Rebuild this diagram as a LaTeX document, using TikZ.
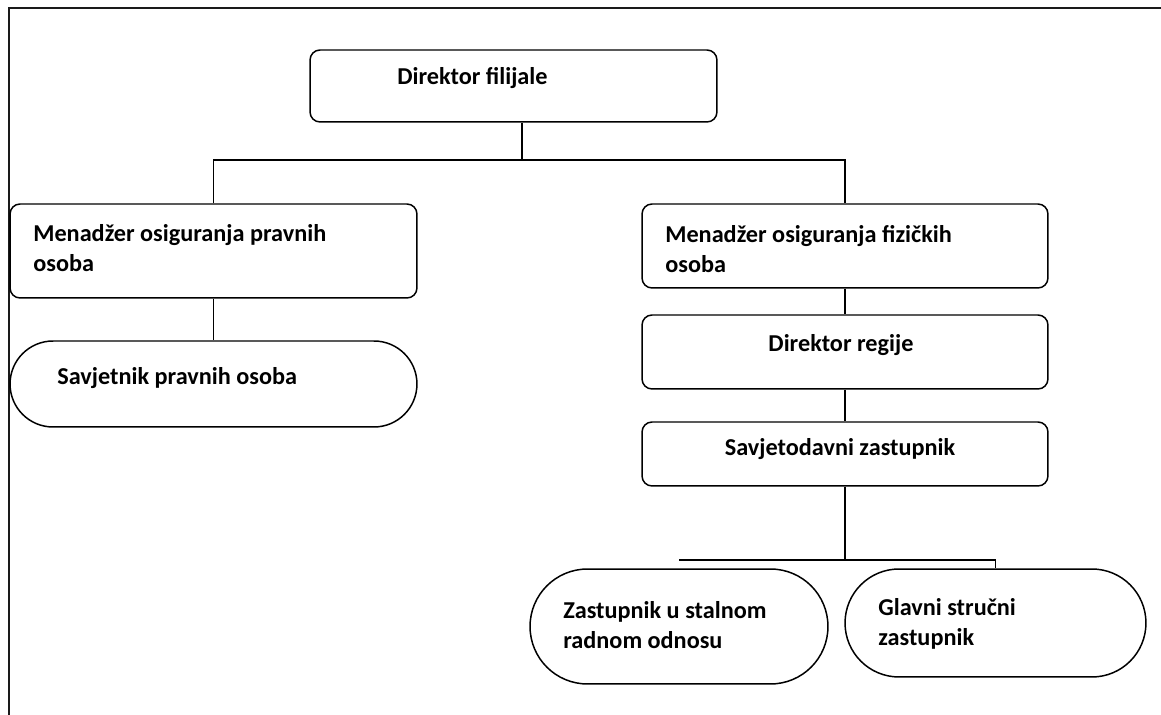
\documentclass[tikz,border=0pt]{standalone}
\usepackage{fontspec}
\setmainfont{Carlito}
\usepackage{xcolor}
\usepackage{tikz}
\definecolor{orgline}{HTML}{000000}
\definecolor{orgframe}{HTML}{1a1a1a}

\begin{document}
\begin{tikzpicture}[x=0.02cm,y=-0.02cm,
  box/.style={draw=orgline,line width=0.85pt,rounded corners=0.2cm,inner sep=0pt},
  pill/.style={draw=orgline,line width=0.85pt,inner sep=0pt},
  lbl/.style={font=\fontsize{13.8}{17}\selectfont\bfseries,inner sep=0pt,align=left},
  link/.style={draw=orgline,line width=0.6pt}]
  \useasboundingbox (0,0) rectangle (1161,715);
  \draw[orgframe,line width=1.1pt] (1161,8) -- (9,8) -- (9,715);
  % boxes
  \node[box,minimum width=8.14cm,minimum height=1.44cm] (fil) at (513.5,86) {};
  \node[box,minimum width=8.14cm,minimum height=1.88cm] (pravne) at (213.5,251) {};
  \node[pill,rounded corners=0.86cm,minimum width=8.14cm,minimum height=1.72cm] (savj) at (213.5,384) {};
  \node[box,minimum width=8.12cm,minimum height=1.68cm] (fizicke) at (845,246) {};
  \node[box,minimum width=8.12cm,minimum height=1.48cm] (regija) at (845,352) {};
  \node[box,minimum width=8.12cm,minimum height=1.28cm] (savjetodavni) at (845,454) {};
  \node[pill,rounded corners=1.15cm,minimum width=5.96cm,minimum height=2.30cm] (stalni) at (679,626.5) {};
  \node[pill,rounded corners=1.08cm,minimum width=6.02cm,minimum height=2.16cm] (glavni) at (995.5,623) {};
  % texts
  \node[lbl,anchor=west] (t-fil) at (397,78) {Direktor filijale};
  \node[lbl,anchor=west] (t-pravne) at (33,248.5) {Menadžer osiguranja pravnih\\osoba};
  \node[lbl,anchor=west] (t-savj) at (57,378) {Savjetnik pravnih osoba};
  \node[lbl,anchor=west] (t-fizicke) at (665,249) {Menadžer osiguranja fizičkih\\osoba};
  \node[lbl] (t-regija) at (841,345) {Direktor regije};
  \node[lbl] (t-savjetodavni) at (840,449) {Savjetodavni zastupnik};
  \node[lbl,anchor=west] (t-stalni) at (563,625) {Zastupnik u stalnom\\radnom odnosu};
  \node[lbl,anchor=west] (t-glavni) at (878,623.5) {Glavni stručni\\zastupnik};
  % connectors
  \coordinate (top) at (522,160);
  \coordinate (low) at (845,560);
  \draw[link] (fil.south -| top) -- (top);
  \draw[link] (pravne.north) -- (pravne.north |- top) -- (fizicke.north |- top) -- (fizicke.north);
  \draw[link] (pravne.south) -- (savj.north);
  \draw[link] (fizicke.south) -- (regija.north);
  \draw[link] (regija.south) -- (savjetodavni.north);
  \draw[link] (savjetodavni.south) -- (low);
  \draw[link] (stalni.north |- low) -- (glavni.north |- low) -- (glavni.north);
\end{tikzpicture}
\end{document}
